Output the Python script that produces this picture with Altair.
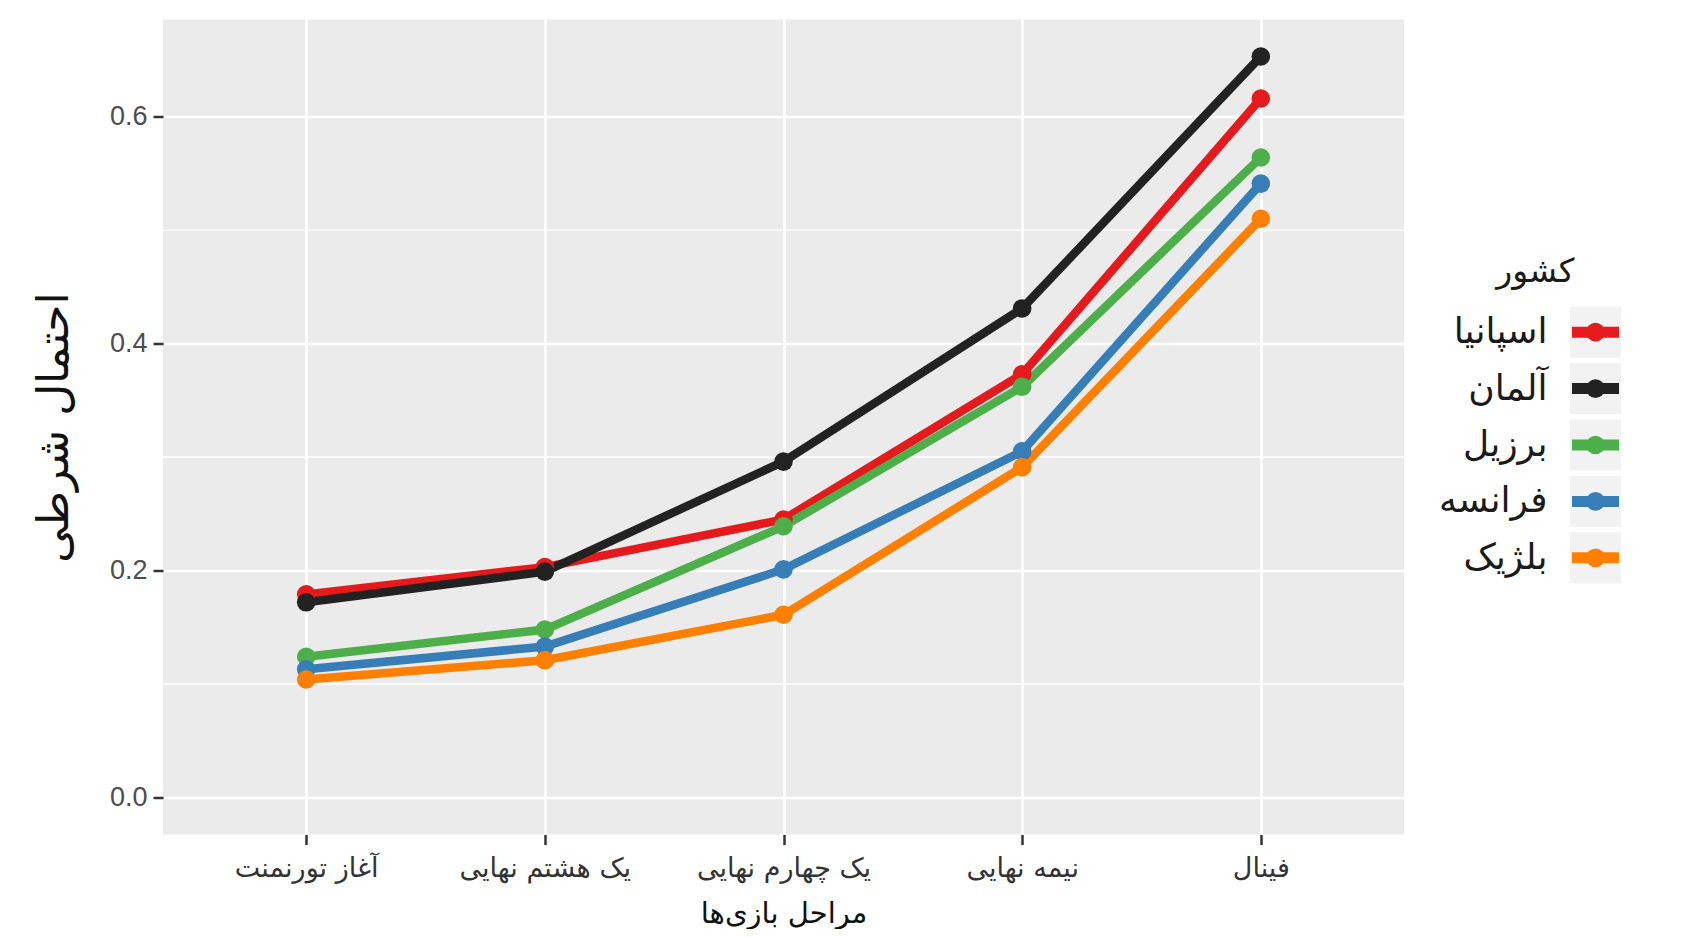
import altair as alt
import pandas as pd

stages = ["آغاز تورنمنت", "یک هشتم نهایی", "یک چهارم نهایی", "نیمه نهایی", "فینال"]
countries = ["اسپانیا", "آلمان", "برزیل", "فرانسه", "بلژیک"]
colors = ["#E41A1C", "#222222", "#4DAF4A", "#377EB8", "#FF7F00"]

spain = [0.179, 0.203, 0.245, 0.373, 0.616]
germany = [0.172, 0.199, 0.296, 0.431, 0.653]
brazil = [0.124, 0.148, 0.239, 0.362, 0.564]
france = [0.113, 0.133, 0.201, 0.305, 0.541]
belgium = [0.104, 0.121, 0.161, 0.291, 0.510]

y_major = [0.0, 0.2, 0.4, 0.6]
y_minor = [0.1, 0.3, 0.5]

series = [spain, germany, brazil, france, belgium]
rows = []
for ci, (c, vals) in enumerate(zip(countries, series)):
    for si, (s, v) in enumerate(zip(stages, vals)):
        rows.append({"country": c, "stage": s, "p": v, "ci": ci, "si": si})
df = pd.DataFrame(rows)

ymax = df["p"].max()
ypad = 0.05 * ymax
ydomain = [0 - ypad, ymax + ypad]

FA = "DejaVu Sans"
NUM = "Liberation Sans"

color_scale = alt.Scale(domain=countries, range=colors)

x_enc = alt.X(
    "stage:N", sort=stages,
    scale=alt.Scale(type="point", padding=0.6),
    axis=alt.Axis(
        title="مراحل بازی‌ها", labelAngle=0, labelFont=FA, labelFontSize=27,
        labelColor="#333333", labelPadding=11, tickSize=10, tickWidth=2.5,
        tickColor="#333333", domain=False, grid=True, gridColor="white",
        gridWidth=2.7, titleFont=FA, titleFontSize=29, titleFontWeight="normal",
        titleColor="#111111", titlePadding=18,
    ),
)
y_enc = alt.Y(
    "p:Q",
    scale=alt.Scale(domain=ydomain, nice=False, zero=False),
    axis=alt.Axis(
        values=y_major, format=".1f", title="احتمال شرطی",
        labelFont=NUM, labelFontSize=27, labelColor="#4D4D4D",
        labelPadding=6, tickSize=10, tickWidth=2.5, tickColor="#333333",
        domain=False, grid=True, gridColor="white", gridWidth=2.7,
        titleFont=FA, titleFontSize=44, titleFontWeight="normal",
        titleColor="#111111", titlePadding=33,
    ),
)

minor_df = pd.DataFrame({"p": y_minor})
minor = alt.Chart(minor_df).mark_rule(color="white", strokeWidth=1.4).encode(y=y_enc)

lines = alt.Chart(df).mark_line(strokeWidth=8.5).encode(
    x=x_enc, y=y_enc,
    color=alt.Color("country:N", scale=color_scale, legend=None),
    detail="ci:O",
    order="si:O",
)
points = alt.Chart(df).mark_circle(size=346, opacity=1).encode(
    x=x_enc, y=y_enc,
    color=alt.Color("country:N", scale=color_scale, legend=None),
)

main = alt.layer(minor, lines, points).properties(
    width=1241, height=815,
    view=alt.ViewBackground(fill="#EBEBEB", stroke=None),
)

leg_df = pd.DataFrame({"country": countries})
leg_y = alt.Y(
    "country:N", sort=countries,
    scale=alt.Scale(domain=countries, range=[284.5, 566.5], paddingInner=0, paddingOuter=0),
    axis=alt.Axis(
        orient="left", domain=False, ticks=False, grid=False,
        labelFont=FA, labelFontSize=36, labelColor="#1A1A1A", labelPadding=23,
        title="کشور", titleAngle=0, titleAlign="right", titleBaseline="middle",
        titleX=4, titleY=251.5, titleFont=FA, titleFontSize=33,
        titleFontWeight="normal", titleColor="#1A1A1A",
    ),
)
keys = alt.Chart(leg_df).mark_square(size=2601, color="#F2F2F2", opacity=1).encode(
    y=leg_y, x=alt.value(25.5)
)
kline = alt.Chart(leg_df).mark_rule(strokeWidth=11).encode(
    y=leg_y, x=alt.value(2), x2=alt.value(49),
    color=alt.Color("country:N", scale=color_scale, legend=None),
)
kdot = alt.Chart(leg_df).mark_circle(size=350, opacity=1).encode(
    y=leg_y, x=alt.value(25.5),
    color=alt.Color("country:N", scale=color_scale, legend=None),
)
legend = alt.layer(keys, kline, kdot).properties(
    width=51, height=815,
    view=alt.ViewBackground(fill=None, stroke=None),
)

chart = alt.hconcat(main, legend, spacing=166, bounds="flush").properties(
    padding={"left": 24, "top": 11.5, "right": 5, "bottom": 0},
    background="white",
).configure_view(stroke=None)

chart.save("out.html", embed_options={"renderer": "svg", "actions": False})
